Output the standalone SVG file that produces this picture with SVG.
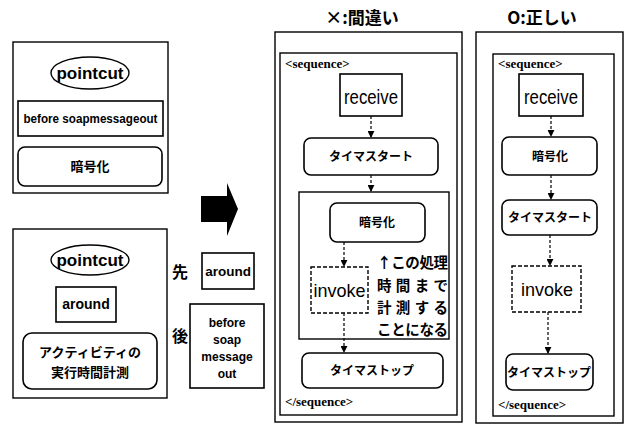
<svg xmlns="http://www.w3.org/2000/svg" width="624" height="425" viewBox="0 0 624 425">
<defs>
<style>
.box{fill:#fff;stroke:#000;stroke-width:1.6}
.thin{fill:none;stroke:#000;stroke-width:1.4}
.dash{fill:#fff;stroke:#000;stroke-width:1.4;stroke-dasharray:4 2}
.con{fill:none;stroke:#000;stroke-width:1.2;stroke-dasharray:3 2;marker-end:url(#ah)}
.en{font-family:"Liberation Sans",Arial,sans-serif;font-weight:bold;fill:#000}
.jp{font-family:"Noto Sans CJK JP","Noto Sans",sans-serif;font-weight:bold;fill:#000}
.reg{font-family:"Liberation Sans",Arial,sans-serif;fill:#000}
.seq{font-family:"Liberation Serif","Times New Roman",serif;font-weight:bold;font-size:13px;fill:#000}
</style>
<marker id="ah" viewBox="0 0 8 8" refX="7" refY="4" markerWidth="7" markerHeight="7" markerUnits="userSpaceOnUse" orient="auto">
<path d="M0,0 L8,4 L0,8 Z" fill="#000"/>
</marker>
</defs>
<rect width="624" height="425" fill="#fff"/>

<g id="pc1">
<rect class="thin" x="13" y="42" width="155" height="151"/>
<ellipse class="thin" cx="90" cy="73" rx="39" ry="16"/>
<text class="en" x="90" y="79" font-size="17" text-anchor="middle">pointcut</text>
<rect class="box" x="18" y="101" width="145" height="35"/>
<text class="en" x="90.5" y="123" font-size="12.5" text-anchor="middle" textLength="134" lengthAdjust="spacingAndGlyphs">before  soapmessageout</text>
<rect class="box" x="18" y="147" width="144" height="39" rx="7"/>
<text class="jp" x="90" y="171" font-size="13" text-anchor="middle">暗号化</text>
</g>

<g id="pc2">
<rect class="thin" x="13" y="229" width="154" height="169"/>
<ellipse class="thin" cx="90" cy="260" rx="39" ry="15"/>
<text class="en" x="90" y="266" font-size="17" text-anchor="middle">pointcut</text>
<rect class="box" x="56" y="287" width="60" height="35"/>
<text class="en" x="86" y="309" font-size="14" text-anchor="middle">around</text>
<rect class="box" x="23" y="333" width="134" height="56" rx="9"/>
<text class="jp" x="90" y="357" font-size="13" text-anchor="middle">アクティビティの</text>
<text class="jp" x="90" y="377" font-size="13" text-anchor="middle">実行時間計測</text>
</g>

<g id="bigarrow">
<polygon points="201,196 227,196 227,183 238,209 227,236 227,222 201,222" fill="#000"/>
</g>

<g id="order">
<text class="jp" x="180" y="278" font-size="16" text-anchor="middle">先</text>
<rect class="box" x="202" y="253" width="52" height="36"/>
<text class="en" x="228" y="276" font-size="13.5" text-anchor="middle">around</text>
<text class="jp" x="180" y="342" font-size="16" text-anchor="middle">後</text>
<rect class="box" x="190" y="304" width="74" height="84"/>
<text class="en" x="227" y="327" font-size="12" text-anchor="middle">before</text>
<text class="en" x="227" y="344" font-size="12" text-anchor="middle">soap</text>
<text class="en" x="227" y="361" font-size="12" text-anchor="middle">message</text>
<text class="en" x="227" y="378" font-size="12" text-anchor="middle">out</text>
</g>

<g id="wrong">
<text class="jp" x="362" y="24" font-size="17" font-weight="normal" text-anchor="middle">×:間違い</text>
<rect class="thin" x="275" y="32" width="187" height="390"/>
<rect class="thin" x="280" y="53" width="177" height="362"/>
<text class="seq" x="285" y="68">&lt;sequence&gt;</text>
<text class="seq" x="285" y="406">&lt;/sequence&gt;</text>
</g>
<g id="w-receive">
<rect class="box" x="340" y="74" width="62" height="42"/>
<text class="reg" x="371" y="104" font-size="20" text-anchor="middle" textLength="54" lengthAdjust="spacingAndGlyphs">receive</text>
</g>
<g id="w-start">
<rect class="box" x="304" y="138" width="134" height="37" rx="7"/>
<text class="jp" x="371" y="161" font-size="12" text-anchor="middle">タイマスタート</text>
</g>
<g id="w-around">
<rect class="thin" x="299" y="192" width="150" height="147"/>
</g>
<g id="w-encrypt">
<rect class="box" x="330" y="203" width="95" height="39" rx="7"/>
<text class="jp" x="377" y="227" font-size="12" text-anchor="middle">暗号化</text>
</g>
<g id="w-invoke">
<rect class="dash" x="311" y="267" width="57" height="46"/>
<text class="reg" x="339.5" y="297" font-size="19" text-anchor="middle" textLength="52" lengthAdjust="spacingAndGlyphs">invoke</text>
</g>
<g id="w-note">
<text class="jp" x="377" y="268" font-size="14.5" textLength="71" lengthAdjust="spacing">↑この処理</text>
<text class="jp" x="377" y="291" font-size="14.5" textLength="71" lengthAdjust="spacing">時間まで</text>
<text class="jp" x="377" y="313" font-size="14.5" textLength="71" lengthAdjust="spacing">計測する</text>
<text class="jp" x="377" y="335" font-size="14.5" textLength="71" lengthAdjust="spacing">ことになる</text>
</g>
<g id="w-stop">
<rect class="box" x="302" y="353" width="141" height="35" rx="7"/>
<text class="jp" x="372" y="375" font-size="12" text-anchor="middle">タイマストップ</text>
</g>

<g id="right">
<text class="jp" x="542" y="24" font-size="17" font-weight="normal" text-anchor="middle">O:正しい</text>
<rect class="thin" x="476" y="32" width="147" height="391"/>
<rect class="thin" x="493" y="54" width="121" height="362"/>
<text class="seq" x="498" y="68">&lt;sequence&gt;</text>
<text class="seq" x="498" y="409">&lt;/sequence&gt;</text>
</g>
<g id="r-receive">
<rect class="box" x="519" y="74" width="64" height="42"/>
<text class="reg" x="551" y="104" font-size="20" text-anchor="middle" textLength="54" lengthAdjust="spacingAndGlyphs">receive</text>
</g>
<g id="r-encrypt">
<rect class="box" x="502" y="137" width="95" height="38" rx="7"/>
<text class="jp" x="550" y="161" font-size="12" text-anchor="middle">暗号化</text>
</g>
<g id="r-start">
<rect class="box" x="502" y="200" width="95" height="35" rx="7"/>
<text class="jp" x="550" y="222" font-size="12" text-anchor="middle">タイマスタート</text>
</g>
<g id="r-invoke">
<rect class="dash" x="512" y="266" width="69" height="46"/>
<text class="reg" x="547" y="296" font-size="19" text-anchor="middle" textLength="52" lengthAdjust="spacingAndGlyphs">invoke</text>
</g>
<g id="r-stop">
<rect class="box" x="506" y="354" width="87" height="36" rx="7"/>
<text class="jp" x="549" y="377" font-size="12" text-anchor="middle">タイマストップ</text>
</g>

<g id="connectors">
<path class="con" d="M371,116 V137"/>
<path class="con" d="M371,175 V191"/>
<path class="con" d="M344,242 V266"/>
<path class="con" d="M344,313 V352"/>
<path class="con" d="M551,116 V136"/>
<path class="con" d="M551,175 V199"/>
<path class="con" d="M550,235 V265"/>
<path class="con" d="M548,312 V353"/>
</g>
</svg>
